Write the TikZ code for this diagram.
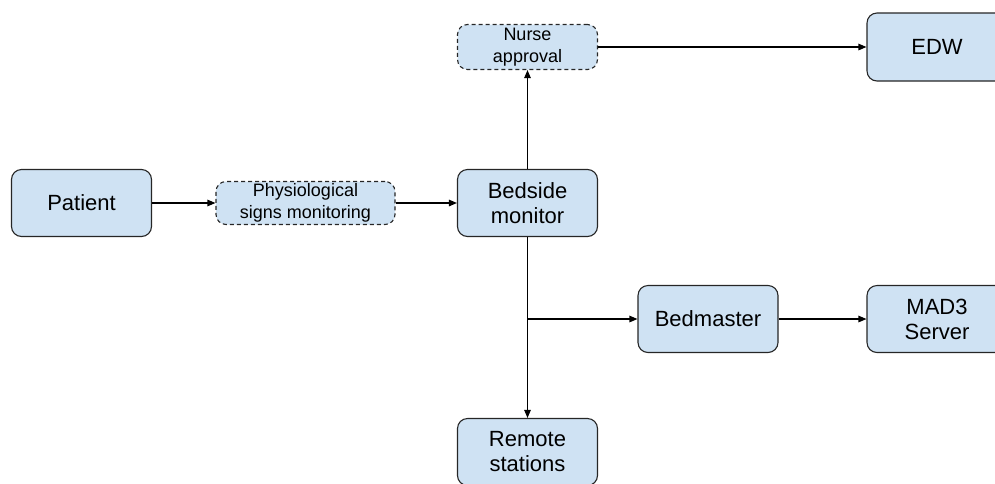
\documentclass[tikz,border=0pt]{standalone}
\usepackage{fontspec}
\setmainfont{Liberation Sans}
\usetikzlibrary{arrows.meta}
\definecolor{boxfill}{HTML}{CFE2F3}
\definecolor{boxline}{HTML}{262626}
\begin{document}
\begin{tikzpicture}[x=1pt,y=-1pt,
  box/.style={draw=boxline, fill=boxfill, rounded corners=10pt, line width=1.1pt,
    minimum width=140pt, minimum height=67pt, align=center, inner sep=0pt,
    font=\fontsize{22}{25}\selectfont},
  dbox/.style={box, dash pattern=on 4pt off 3pt, minimum height=45pt,
    font=\fontsize{18}{22}\selectfont},
  link/.style={draw=black, line width=1.1pt, -{Triangle[length=8pt,width=6.5pt]}}]
\useasboundingbox (0,0) rectangle (995,483);
\clip (0,0) rectangle (995,483);

% nodes
\node[box] (patient) at (81.5,203) {Patient};
\node[dbox, minimum width=179pt, minimum height=43pt] (physio) at (305.5,203) {Physiological\\signs monitoring};
\node[box] (bedside) at (527.5,203) {Bedside\\monitor};
\node[dbox] (nurse) at (527.5,47) {Nurse\\approval};
\node[box, minimum height=68pt] (edw) at (937,47) {EDW};
\node[box] (bedmaster) at (708,319) {Bedmaster};
\node[box] (mad) at (937,319) {MAD3\\Server};
\node[box] (remote) at (527.5,452) {Remote\\stations};

% connectors
\draw[link] (patient) -- (physio);
\draw[link] (physio) -- (bedside);
\draw[link] (bedside) -- (nurse);
\draw[link] (nurse) -- (edw);
\draw[link] (bedside.south) -- (remote.north);
\draw[link] (bedside.south) |- (bedmaster.west);
\draw[link] (bedmaster) -- (mad);
\end{tikzpicture}
\end{document}
